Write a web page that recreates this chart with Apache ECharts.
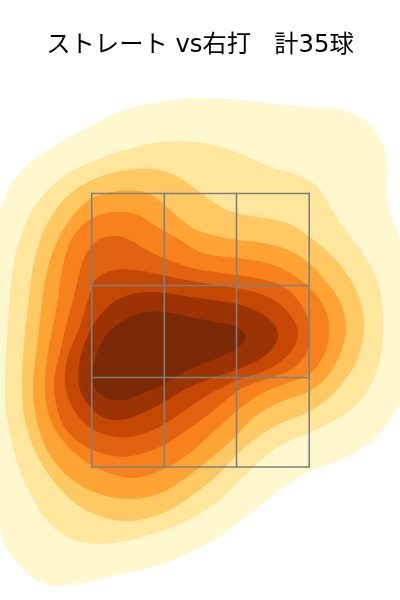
<!DOCTYPE html>
<html>
<head>
<meta charset="utf-8">
<style>html,body{margin:0;padding:0;background:#fff}#c{width:400px;height:600px}</style>
<script src="https://cdn.jsdelivr.net/npm/echarts@6/dist/echarts.min.js"></script>
</head>
<body>
<div id="c"></div>
<script>
var titleText = 'ストレート vs右打   計35球';
var levelColors = ['#FFF7CD','#FEE69C','#FEC863','#FEA434','#F6811D','#E1620F','#C44704','#9C3304','#7A2A05'];
var zoneX = [91.7,164.3,236.5,309.2];
var zoneY = [193.5,285.5,377.5,467];

var level1 = [[-8,240],[0,208],[10,183],[20,173],[33,160],[50,148],[67,138],[90,127],[110,115],[133,107],[157,102],[180,99],[200,98],[233,99],[267,103],[300,107],[333,108],[353,113],[370,123],[382,140],[387,157],[387,180],[387,203],[392,220],[400,237],[408,260],[414,300],[415,350],[410,385],[400,405],[390,420],[377,437],[363,448],[347,457],[327,465],[310,471],[293,480],[280,490],[267,500],[253,512],[237,523],[220,537],[200,548],[167,563],[133,572],[100,579],[67,586],[50,586],[33,579],[17,563],[5,547],[0,530],[-8,500],[-12,400],[-12,300]];
var level2 = [[9,307],[12,270],[20,237],[33,207],[50,187],[67,173],[90,162],[117,152],[143,145],[167,141],[200,142],[227,148],[250,158],[273,168],[293,173],[313,182],[323,193],[333,212],[347,232],[363,253],[377,277],[383,303],[383,340],[380,363],[370,387],[357,405],[340,418],[310,433],[283,443],[267,455],[253,467],[237,483],[220,500],[200,514],[167,530],[133,540],[100,545],[73,541],[50,525],[37,507],[23,480],[12,447],[5,407],[5,377],[7,340]];
var level3 = [[28,307],[33,263],[43,230],[57,207],[73,190],[97,177],[123,170],[153,168],[177,175],[200,192],[220,207],[237,214],[267,218],[290,223],[310,237],[330,253],[347,273],[360,297],[365,323],[363,340],[357,363],[343,383],[327,400],[310,412],[283,422],[263,433],[243,448],[230,462],[217,476],[200,490],[167,513],[133,522],[110,520],[83,510],[60,490],[40,463],[25,427],[21,390],[24,340]];
var level4 = [[43,290],[50,257],[62,230],[77,210],[92,197],[110,192],[130,190],[147,192],[157,198],[173,213],[190,227],[200,232],[220,237],[237,240],[267,243],[290,250],[310,263],[328,283],[342,303],[347,327],[345,340],[338,360],[328,377],[310,392],[290,398],[267,408],[250,420],[237,435],[220,451],[200,467],[187,477],[167,491],[143,499],[120,499],[93,493],[67,477],[47,453],[35,417],[32,383],[38,340]];
var level5 = [[57,307],[62,267],[70,240],[83,223],[103,213],[123,211],[140,215],[157,227],[177,238],[200,253],[217,256],[237,258],[267,262],[290,272],[310,287],[323,303],[330,323],[328,347],[320,363],[310,375],[287,383],[263,392],[243,405],[220,426],[200,444],[187,456],[163,470],[140,478],[123,478],[92,467],[67,447],[50,423],[44,393],[46,365],[50,340]];
var level6 = [[75,293],[82,260],[95,240],[113,235],[127,238],[143,248],[163,258],[187,267],[200,270],[237,275],[257,278],[277,283],[293,293],[307,313],[311,333],[308,353],[293,370],[267,379],[243,387],[227,399],[208,415],[190,428],[167,444],[143,454],[120,458],[90,450],[73,438],[60,422],[54,395],[54,375],[60,353],[66,325]];
var level7 = [[74,340],[80,327],[90,293],[93,280],[110,270],[127,269],[143,271],[163,275],[190,281],[237,288],[260,293],[280,303],[295,320],[299,335],[293,350],[280,363],[260,373],[237,380],[207,395],[190,407],[167,423],[147,433],[123,439],[97,433],[77,417],[64,390],[66,360]];
var level8 = [[90,330],[103,310],[120,297],[140,292],[163,292],[190,297],[237,303],[260,312],[273,322],[279,333],[275,347],[260,360],[237,370],[200,382],[180,392],[163,403],[143,413],[123,421],[103,419],[86,404],[77,383],[80,355]];
var level9 = [[103,338],[117,324],[133,315],[150,311],[167,312],[190,317],[220,323],[237,326],[248,337],[239,348],[220,357],[200,365],[180,374],[163,385],[137,396],[120,402],[100,396],[92,384],[94,360]];
var contours = [level1,level2,level3,level4,level5,level6,level7,level8,level9];

// corner-cutting so the traced outlines render as smooth curves
function rounded(points){
  var out = points;
  for(var k=0;k<4;k++){
    var next=[];
    for(var i=0;i<out.length;i++){
      var a=out[i], b=out[(i+1)%out.length];
      next.push([a[0]*0.75+b[0]*0.25,a[1]*0.75+b[1]*0.25]);
      next.push([a[0]*0.25+b[0]*0.75,a[1]*0.25+b[1]*0.75]);
    }
    out=next;
  }
  return out;
}

var chart = echarts.init(document.getElementById('c'), null, {renderer:'canvas'});
var contourSeries = contours.map(function(pts,i){
  var curve = rounded(pts);
  return {
    type:'custom', coordinateSystem:'cartesian2d', silent:true, z:2+i, clip:false,
    data:pts,
    renderItem:function(params,api){
      if(params.dataIndex!==0) return null;
      return {type:'polygon',
        shape:{points:curve.map(function(p){return api.coord(p);})},
        style:{fill:levelColors[i],stroke:null}};
    }
  };
});
var zoneSegs = [];
zoneX.forEach(function(x){zoneSegs.push([x,zoneY[0],x,zoneY[zoneY.length-1]]);});
zoneY.forEach(function(y){zoneSegs.push([zoneX[0],y,zoneX[zoneX.length-1],y]);});
var zoneSeries = {
  type:'custom', coordinateSystem:'cartesian2d', silent:true, z:20, clip:false,
  data:zoneSegs,
  renderItem:function(params,api){
    var a=api.coord([api.value(0),api.value(1)]), b=api.coord([api.value(2),api.value(3)]);
    return {type:'line',shape:{x1:a[0],y1:a[1],x2:b[0],y2:b[1]},
      style:{stroke:'#808080',lineWidth:1.6,lineCap:'square'}};
  }
};
chart.setOption({
  animation:false,
  title:{text:titleText,left:'center',top:29,
    textStyle:{fontFamily:'"DejaVu Sans","Noto Sans CJK JP",sans-serif',fontSize:24.3,fontWeight:'normal',color:'#000'}},
  grid:{left:0,right:0,top:0,bottom:0},
  xAxis:{type:'value',min:0,max:400,show:false},
  yAxis:{type:'value',min:0,max:600,inverse:true,show:false},
  series:contourSeries.concat([zoneSeries])
});
</script>
</body>
</html>
